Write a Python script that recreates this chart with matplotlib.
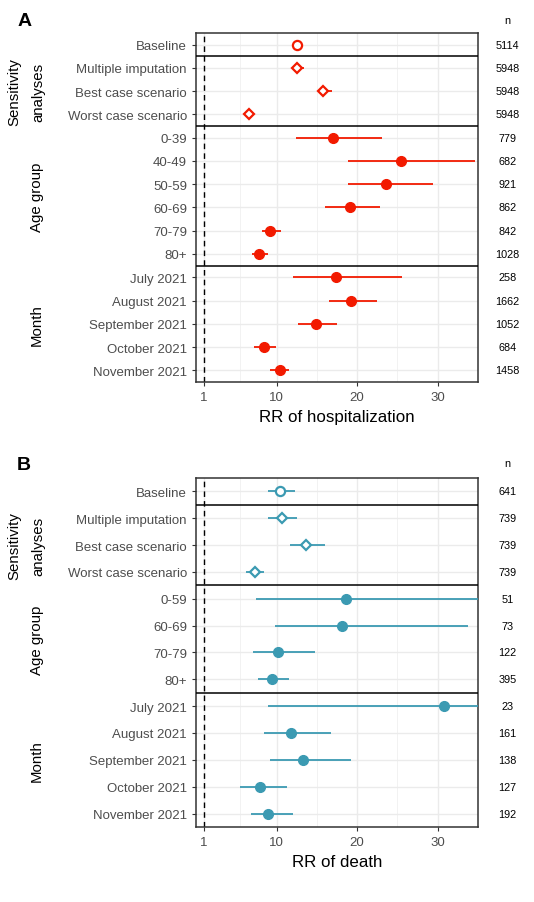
import numpy as np
import matplotlib.pyplot as plt

plt.rcParams['font.family'] = ['Liberation Sans', 'DejaVu Sans']

# panel A: hospitalization
hosp_labels = ['Baseline', 'Multiple imputation', 'Best case scenario', 'Worst case scenario',
               '0-39', '40-49', '50-59', '60-69', '70-79', '80+',
               'July 2021', 'August 2021', 'September 2021', 'October 2021', 'November 2021']
hosp_rr = [12.5, 12.6, 15.8, 6.6, 17.0, 25.5, 23.6, 19.1, 9.2, 7.8, 17.4, 19.3, 14.9, 8.4, 10.4]
hosp_lo = [11.9, 11.9, 15.3, 6.3, 12.4, 18.9, 18.9, 16.0, 8.2, 7.0, 12.0, 16.5, 12.7, 7.2, 9.2]
hosp_hi = [13.3, 13.4, 16.9, 7.0, 23.1, 34.6, 29.4, 22.8, 10.6, 8.9, 25.6, 22.5, 17.5, 9.9, 11.6]
hosp_n = [5114, 5948, 5948, 5948, 779, 682, 921, 862, 842, 1028, 258, 1662, 1052, 684, 1458]
hosp_groups = [('', 1), ('Sensitivity\nanalyses', 3), ('Age group', 6), ('Month', 5)]

# panel B: death
death_labels = ['Baseline', 'Multiple imputation', 'Best case scenario', 'Worst case scenario',
                '0-59', '60-69', '70-79', '80+',
                'July 2021', 'August 2021', 'September 2021', 'October 2021', 'November 2021']
death_rr = [10.4, 10.7, 13.6, 7.3, 18.6, 18.1, 10.2, 9.4, 30.8, 11.8, 13.3, 7.9, 9.0]
death_lo = [8.9, 9.0, 11.7, 6.2, 7.4, 9.8, 7.1, 7.7, 8.9, 8.4, 9.2, 5.5, 6.8]
death_hi = [12.3, 12.5, 16.0, 8.5, 45.0, 33.8, 14.8, 11.6, 50.0, 16.7, 19.3, 11.3, 12.0]
death_n = [641, 739, 739, 739, 51, 73, 122, 395, 23, 161, 138, 127, 192]
death_groups = [('', 1), ('Sensitivity\nanalyses', 3), ('Age group', 4), ('Month', 5)]

RED = '#F21A00'
TEAL = '#3B9AB2'

fig = plt.figure(figsize=(5.34, 9.03), dpi=100)


def forest(ax, labels, rr, lo, hi, nvals, groups, color, xlabel):
    k = len(labels)
    y = np.arange(k)
    ax.set_xlim(0, 35)
    ax.set_ylim(k - 0.5, -0.5)
    ax.set_xticks([1, 10, 20, 30])
    ax.set_xticks([5.5, 15, 25], minor=True)
    ax.set_yticks(y)
    ax.set_yticklabels(labels)
    ax.grid(True, which='major', color='#ebebeb', lw=1.0, zorder=0)
    ax.grid(True, which='minor', axis='x', color='#f0f0f0', lw=0.6, zorder=0)
    ax.set_axisbelow(True)
    ax.axvline(1, color='black', ls=(0, (4, 3)), lw=1.0, zorder=2)
    for sp in ax.spines.values():
        sp.set_color('#333333')
        sp.set_linewidth(1.1)
    ax.tick_params(axis='both', which='major', length=3, width=0.8, color='#333333',
                   labelcolor='#4d4d4d', labelsize=9.5)
    ax.tick_params(axis='x', which='minor', length=0)
    ax.set_xlabel(xlabel, fontsize=12.2, labelpad=4)

    ax.hlines(y, lo, hi, color=color, lw=1.3, zorder=3)
    for i in range(k):
        if i == 0:
            ax.plot(rr[i], y[i], 'o', ms=6.6, mfc='white', mec=color, mew=1.6, zorder=4)
        elif i < 4:
            ax.plot(rr[i], y[i], 'D', ms=5.6, mfc='white', mec=color, mew=1.6, zorder=4)
        else:
            ax.plot(rr[i], y[i], 'o', ms=7, color=color, zorder=4)

    start = 0
    for name, size in groups:
        if start > 0:
            ax.axhline(start - 0.5, color='black', lw=1.1, zorder=5)
        if name:
            xpos = -0.6 if '\n' in name else -0.565
            ax.text(xpos, start + (size - 1) / 2, name, transform=ax.get_yaxis_transform(),
                    rotation=90, ha='center', va='center', fontsize=10.8, linespacing=1.9)
        start += size

    for i in range(k):
        ax.text(1.105, y[i], str(nvals[i]), transform=ax.get_yaxis_transform(),
                ha='center', va='center', fontsize=7.8)
    ax.text(1.105, -1.05, 'n', transform=ax.get_yaxis_transform(),
            ha='center', va='center', fontsize=7.8)


axA = fig.add_axes([0.367, 0.5759, 0.528, 0.3865])
forest(axA, hosp_labels, hosp_rr, hosp_lo, hosp_hi, hosp_n, hosp_groups, RED, 'RR of hospitalization')
axB = fig.add_axes([0.367, 0.0831, 0.528, 0.3865])
forest(axB, death_labels, death_rr, death_lo, death_hi, death_n, death_groups, TEAL, 'RR of death')

fig.text(0.032, 0.9767, 'A', fontsize=14, fontweight='bold', va='center')
fig.text(0.032, 0.485, 'B', fontsize=14, fontweight='bold', va='center')

fig.savefig('out.png', dpi=100)
